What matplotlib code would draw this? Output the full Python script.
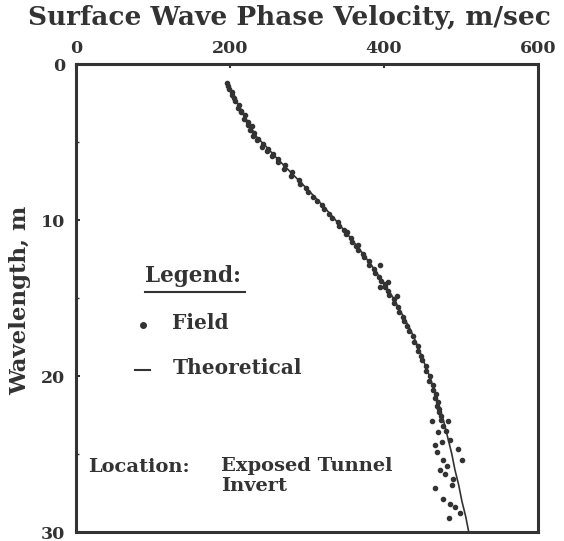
import matplotlib.pyplot as plt

# Theoretical dispersion curve (velocity m/s, wavelength m)
theo_vel = [197, 206, 215, 225, 235, 247, 260, 280, 300, 319, 337, 354, 370, 385, 399, 412, 423, 434, 443, 451,
            459, 466, 472, 478, 483, 488, 492, 497, 501, 506, 510]
theo_wl = [1.3, 2.2, 3.0, 3.9, 4.7, 5.3, 6.0, 7.0, 8.0, 9.0, 10.0, 11.0, 12.0, 13.0, 14.0, 15.0, 16.0, 17.0, 18.0, 19.0,
           20.0, 21.0, 22.0, 23.0, 24.0, 25.0, 26.0, 27.0, 28.0, 29.0, 30.0]

field_vel = [196, 199, 203, 206, 210, 214, 218, 223, 226, 230, 235, 241, 248, 255, 262, 270,
             279, 291, 301, 313, 322, 332, 342, 350, 358, 366, 374, 381, 388, 396, 401, 407,
             413, 420, 426, 432, 439, 444, 449, 455, 459, 463, 466, 469, 472, 474, 476,
             198, 203, 205, 212, 214, 219, 223, 228, 231, 236, 243, 249, 256, 262, 271, 280,
             289, 299, 308, 320, 329, 340, 348, 357, 364, 373, 380, 387, 394, 401, 405, 413,
             418, 425, 430, 437, 444, 448, 454, 460, 463, 467, 470, 472, 474,
             395, 405, 417, 395, 366, 352,
             462, 466, 469, 477, 483, 486, 496, 501, 466, 477, 486, 492, 499, 479, 488, 482,
             473, 470, 481, 490, 475, 484]
field_wl = [1.2, 1.6, 2.0, 2.4, 2.8, 3.1, 3.5, 3.9, 4.2, 4.6, 4.9, 5.3, 5.6, 5.9, 6.3, 6.7,
            7.2, 7.7, 8.2, 8.8, 9.3, 9.9, 10.4, 10.9, 11.4, 11.9, 12.4, 12.9, 13.4, 13.9, 14.3, 14.8,
            15.3, 15.9, 16.5, 17.1, 17.8, 18.4, 19.0, 19.7, 20.3, 20.9, 21.4, 21.9, 22.3, 22.8, 23.2,
            1.4, 1.8, 2.2, 2.6, 3.0, 3.3, 3.7, 4.0, 4.4, 4.8, 5.1, 5.45, 5.75, 6.1, 6.5, 6.95,
            7.45, 7.95, 8.5, 9.05, 9.6, 10.15, 10.65, 11.15, 11.65, 12.15, 12.65, 13.15, 13.65, 14.1, 14.55, 15.05,
            15.6, 16.2, 16.8, 17.45, 18.1, 18.7, 19.35, 20.0, 20.6, 21.15, 21.65, 22.1, 22.55,
            12.9, 14.0, 14.9, 14.3, 11.6, 10.8,
            22.9, 24.4, 24.9, 25.4, 22.9, 24.1, 24.7, 25.4, 27.2, 27.9, 28.2, 28.4, 28.8, 26.3, 27.0, 25.8,
            26.0, 23.6, 23.5, 26.6, 24.2, 29.1]

x_ticks = [0, 200, 400, 600]
y_ticks = [0, 10, 20, 30]

plt.rcParams['font.family'] = 'DejaVu Serif'
plt.rcParams['font.weight'] = 'bold'
ink = '#333333'

fig = plt.figure(figsize=(5.64, 5.41), dpi=100)
ax = fig.add_axes([0.1348, 0.0166, 0.954 - 0.1348, 0.8817 - 0.0166])

ax.plot(theo_vel, theo_wl, color=ink, linewidth=1.2)
ax.plot(field_vel, field_wl, linestyle='none', marker='o', markersize=3, color=ink)

ax.set_xlim(0, 600)
ax.set_ylim(30, 0)
ax.xaxis.tick_top()
ax.set_xticks(x_ticks)
ax.set_yticks(y_ticks)
ax.set_yticks([5, 15, 25], minor=True)
ax.tick_params(direction='in', length=3, width=1.5, colors=ink, labelsize=12.5)
ax.tick_params(axis='y', pad=8)
ax.tick_params(axis='x', pad=5)
ax.tick_params(which='minor', direction='in', length=2, width=1, colors=ink)
for s in ax.spines.values():
    s.set_linewidth(2.2)
    s.set_color(ink)

fig.text(0.513, 0.967, 'Surface Wave Phase Velocity, m/sec', ha='center', va='center',
         fontsize=19, fontweight='bold', color=ink)
fig.text(0.036, 0.445, 'Wavelength, m', rotation=90, ha='center', va='center',
         fontsize=16.5, fontweight='bold', color=ink)

# in-plot legend, drawn as text like the original
ax.text(90, 14.0, 'Legend:', fontsize=15.5, color=ink, va='baseline')
ax.plot([90, 219], [14.6, 14.6], color=ink, linewidth=1.5)
ax.plot([87], [16.7], marker='o', markersize=4, color=ink)
ax.text(125, 16.6, 'Field', fontsize=14.5, color=ink, va='center')
ax.plot([77, 96], [19.6, 19.6], color=ink, linewidth=1.5)
ax.text(126, 19.5, 'Theoretical', fontsize=14.5, color=ink, va='center')
ax.text(16, 25.85, 'Location:', fontsize=14, color=ink, va='center')
ax.text(188, 25.75, 'Exposed Tunnel', fontsize=14, color=ink, va='center')
ax.text(188, 27.05, 'Invert', fontsize=14, color=ink, va='center')

plt.savefig('out.png', dpi=100)
